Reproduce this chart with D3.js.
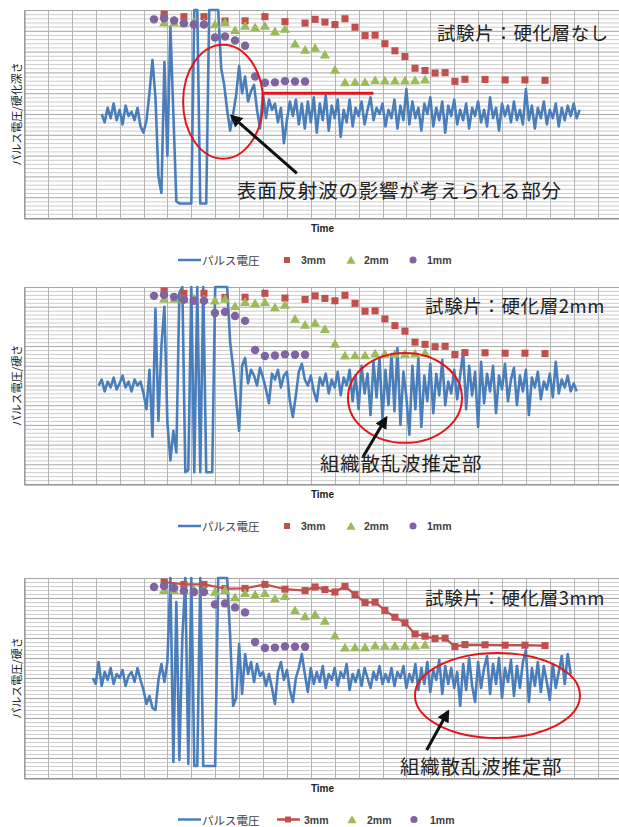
<!DOCTYPE html>
<html>
<head>
<meta charset="utf-8">
<script src="https://cdn.jsdelivr.net/npm/d3@7"></script>
<style>
  body { margin: 0; background: #fff; }
  svg { display: block; }
</style>
</head>
<body>
<svg id="chart" width="619" height="827"></svg>
<script>
// ---- Hardness profiles (same measurements plotted in all three panels) ----
const time3mm = [5.86, 6.69, 7.53, 8.41, 9.25, 10.08, 10.92, 11.76, 12.18, 12.59, 13.01, 13.43,
  13.85, 14.27, 14.69, 15.10, 15.52, 15.94, 16.36, 16.78, 17.20, 17.62, 18.03, 18.45, 19.29,
  20.13, 20.96, 21.80];
const hard3mm = [98, 96.8, 96.8, 94.7, 94.8, 96.8, 94.4, 93.7, 95.5, 94.2, 93, 95.8,
  91.7, 87.7, 87.9, 83.8, 80.4, 77.6, 72, 70.9, 69.7, 69.9, 65.7, 66.7, 66.6,
  66.4, 66.4, 66.2];

const time2mm = [5.86, 6.28, 6.69, 7.11, 7.53, 7.99, 8.41, 8.83, 9.25, 9.67, 10.08, 10.50,
  10.92, 11.34, 11.76, 12.18, 12.59, 13.01, 13.43, 13.85, 14.27, 14.69, 15.10, 15.52, 15.94,
  16.36, 16.78];
const hard2mm = [94, 94, 93.8, 94.2, 93.8, 93.1, 94, 90.3, 92.4, 91.7, 92.4, 89.7,
  91, 83.8, 80.8, 81.8, 78.6, 71.2, 65.2, 65.3, 65.3, 66.2, 66.1, 66.1, 66.1,
  66.2, 66.6];

const time1mm = [5.44, 5.86, 6.28, 6.69, 7.11, 7.53, 7.99, 8.41, 8.83, 9.25, 9.67, 10.08,
  10.50, 10.92, 11.34, 11.76];
const hard1mm = [95.5, 96, 95, 93.6, 93, 93, 86.8, 87.3, 85.3, 82.8, 68, 65,
  65.2, 65.8, 65.6, 65.6];

// ---- Pulse voltage waveforms (sampled every pulseStep on the Time axis) ----
const pulseStep = 0.125;

const pulseStartNone = 3.25;
const pulseNone = [
  50,46,53,48,55,47,52,45,54,49,51,47,53,
  44,41,47,60,76,58,
  20,12,75,30,92,50,8,
  7,7,7,7,7,
  100,100,
  7,7,7,
  100,100,100,100,
  72,64,52,42,50,59,73,60,68,56,61,64,52,43,60,48,57,52,55,46,
  53,36,47,56,49,57,45,55,43,56,46,58,41,55,47,59,42,54,48,57,
  39,52,46,57,44,53,49,56,45,52,58,47,53,50,55,44,52,48,57,43,
  54,47,62,45,56,48,53,42,55,50,58,44,53,47,56,41,54,49,57,45,
  52,47,55,43,53,49,56,46,52,44,58,48,53,42,55,49,54,46,56,47,
  52,45,62,47,54,43,53,48,56,45,52,48,55,44,53,47,54,49,55,48,52
];

const pulseStart2mm = 3.125;
const pulse2mm = [
  50,53,47,52,49,54,48,51,55,49,52,47,53,50,52,
  46,38,58,24,89,32,70,90,31,12,27,16,
  97,100,6,7,100,6,100,6,100,6,6,6,100,100,100,100,100,
  72,59,43,27,60,64,51,58,55,50,59,54,48,41,56,53,58,49,55,57,
  42,34,45,57,61,53,50,55,47,42,54,50,56,46,53,49,57,45,54,50,
  58,42,55,38,60,46,56,35,62,44,64,33,58,40,66,37,69,30,57,44,
  25,60,38,64,29,55,42,61,36,56,45,63,40,52,46,58,43,55,67,38,
  60,45,57,29,62,41,56,47,60,36,55,48,61,42,53,59,40,55,47,58,
  35,54,49,57,43,52,48,56,44,62,46,53,49,55,47,51,47
];

const pulseStart3mm = 2.875;
const pulse3mm = [
  50,47,58,46,53,49,55,47,52,50,54,46,51,53,48,55,49,
  44,37,41,35,34,49,57,48,58,
  100,8,88,9,70,100,7,100,6,6,100,6,6,6,6,6,100,100,100,100,
  71,36,40,67,42,62,52,58,48,57,51,53,46,52,45,37,53,58,49,54,44,38,50,55,62,52,43,
  55,47,53,48,56,45,52,49,55,46,53,50,57,44,52,48,54,46,55,50,
  45,53,49,56,47,52,48,55,46,53,50,56,45,52,48,57,44,
  55,47,58,43,54,49,59,42,56,47,55,45,53,36,57,44,60,46,38,58,
  45,55,61,42,57,47,60,40,55,48,59,41,56,45,58,64,38,55,46,58,
  43,56,48,39,57,45,53,61,47,62,52
];

// ---- Labels ----
const yAxisTitles = ["パルス電圧/硬化深さ", "パルス電圧/硬さ", "パルス電圧/硬さ"];
const specimenTitles = ["試験片：硬化層なし", "試験片：硬化層2mm", "試験片：硬化層3mm"];
const noteTexts = ["表面反射波の影響が考えられる部分", "組織散乱波推定部", "組織散乱波推定部"];
const seriesNames = ["パルス電圧", "3mm", "2mm", "1mm"];
const xAxisTitle = "Time";

// ---- Styling ----
const colors = { pulse: "#4a7ebb", s3: "#c0504d", s2: "#9bbb59", s1: "#8064a2", note: "#e3161d" };

// Panel layout (pixels) and annotation anchors (data units: Time, value)
const panels = [
  { top: 10, bottom: 218, timeY: 228, legendY: 260, start: pulseStartNone, pulse: pulseNone, link3mm: false,
    title: { t: 17.28, v: 89.6 },
    ellipse: { t: 8.33, v: 55.9, rt: 1.674, rv: 27.4 },
    arrow: { t0: 11.42, v0: 21.5, t1: 8.69, v1: 49 },
    note: { t: 8.91, v: 13.5 },
    bar: { t0: 10.01, t1: 14.62, v: 60 } },
  { top: 287, bottom: 484, timeY: 494, legendY: 526, start: pulseStart2mm, pulse: pulse2mm, link3mm: false,
    title: { t: 16.78, v: 90.9 },
    ellipse: { t: 15.94, v: 43.7, rt: 2.385, rv: 22.8 },
    arrow: { t0: 14.18, v0: 13.7, t1: 15.15, v1: 33.5 },
    note: { t: 12.38, v: 10.7 } },
  { top: 578, bottom: 778, timeY: 788, legendY: 819.5, start: pulseStart3mm, pulse: pulse3mm, link3mm: true,
    title: { t: 16.78, v: 90.7 },
    ellipse: { t: 19.81, v: 41.25, rt: 3.452, rv: 21.25 },
    arrow: { t0: 16.85, v0: 14, t1: 17.74, v1: 33.2 },
    note: { t: 15.73, v: 6.5 } }
];

const svg = d3.select("#chart");
const W = 619;

// Arrow head
svg.append("defs").append("marker")
  .attr("id", "arrowHead")
  .attr("viewBox", "0 0 10 10")
  .attr("refX", 8).attr("refY", 5)
  .attr("markerWidth", 4.2).attr("markerHeight", 4.2)
  .attr("markerUnits", "strokeWidth")
  .attr("orient", "auto")
  .append("path").attr("d", "M0,0 L10,5 L0,10 Z").attr("fill", "#111");

const x = d3.scaleLinear().domain([0, 25]).range([24, 621.5]);
const timeGrid = d3.range(0, 26);
const minorGrid = d3.range(0, 101, 2).filter(v => v % 10 !== 0);
const majorGrid = d3.range(0, 101, 10);

const sym = {
  square: d3.symbol().type(d3.symbolSquare).size(50),
  triangle: d3.symbol().type(d3.symbolTriangle).size(44),
  circle: d3.symbol().type(d3.symbolCircle).size(56)
};

panels.forEach((p, k) => {
  const y = d3.scaleLinear().domain([0, 100]).range([p.bottom, p.top]);
  const g = svg.append("g");

  // grid
  g.append("g").selectAll("line").data(minorGrid).join("line")
    .attr("x1", x(0)).attr("x2", W)
    .attr("y1", d => y(d) + 0.5).attr("y2", d => y(d) + 0.5)
    .attr("stroke", "#cdcdcd").attr("stroke-width", 1);
  g.append("g").selectAll("line").data(majorGrid).join("line")
    .attr("x1", x(0)).attr("x2", W)
    .attr("y1", d => y(d) + 0.5).attr("y2", d => y(d) + 0.5)
    .attr("stroke", "#a6a6a6").attr("stroke-width", 1);
  g.append("g").selectAll("line").data(timeGrid).join("line")
    .attr("x1", d => Math.round(x(d)) + 0.5).attr("x2", d => Math.round(x(d)) + 0.5)
    .attr("y1", y(100)).attr("y2", y(0))
    .attr("stroke", "#b4b4b4").attr("stroke-width", 1);

  // axes (no tick labels)
  g.append("g").attr("transform", `translate(0,${y(0) + 0.5})`)
    .call(d3.axisBottom(x).tickValues([]).tickSizeOuter(0))
    .select(".domain").attr("stroke", "#868686");
  g.append("g").attr("transform", `translate(${x(0) + 0.5},0)`)
    .call(d3.axisLeft(y).tickValues([]).tickSizeOuter(0))
    .select(".domain").attr("stroke", "#868686");

  // pulse voltage
  const line = d3.line()
    .x((d, i) => x(p.start + i * pulseStep))
    .y(d => y(d));
  g.append("path").datum(p.pulse)
    .attr("d", line)
    .attr("fill", "none")
    .attr("stroke", colors.pulse)
    .attr("stroke-width", 2.6)
    .attr("stroke-linejoin", "round");

  // 3mm series
  const pts3 = time3mm.map((t, i) => [t, hard3mm[i]]);
  if (p.link3mm) {
    g.append("path").datum(pts3)
      .attr("d", d3.line().x(d => x(d[0])).y(d => y(d[1])))
      .attr("fill", "none").attr("stroke", colors.s3).attr("stroke-width", 2.2);
  }
  g.append("g").selectAll("path").data(pts3).join("path")
    .attr("d", sym.square)
    .attr("transform", d => `translate(${x(d[0])},${y(d[1])})`)
    .attr("fill", colors.s3);

  // 2mm series
  g.append("g").selectAll("path").data(time2mm.map((t, i) => [t, hard2mm[i]])).join("path")
    .attr("d", sym.triangle)
    .attr("transform", d => `translate(${x(d[0])},${y(d[1]) + 1})`)
    .attr("fill", colors.s2);

  // 1mm series
  g.append("g").selectAll("path").data(time1mm.map((t, i) => [t, hard1mm[i]])).join("path")
    .attr("d", sym.circle)
    .attr("transform", d => `translate(${x(d[0])},${y(d[1])})`)
    .attr("fill", colors.s1);

  // annotations
  const e = p.ellipse;
  g.append("ellipse")
    .attr("cx", x(e.t)).attr("cy", y(e.v))
    .attr("rx", x(e.t + e.rt) - x(e.t)).attr("ry", y(e.v) - y(e.v + e.rv))
    .attr("fill", "none").attr("stroke", colors.note).attr("stroke-width", 2);

  if (p.bar) {
    g.append("line")
      .attr("x1", x(p.bar.t0)).attr("x2", x(p.bar.t1))
      .attr("y1", y(p.bar.v)).attr("y2", y(p.bar.v))
      .attr("stroke", colors.note).attr("stroke-width", 3);
  }

  const a = p.arrow;
  g.append("line")
    .attr("x1", x(a.t0)).attr("y1", y(a.v0))
    .attr("x2", x(a.t1)).attr("y2", y(a.v1))
    .attr("stroke", "#111").attr("stroke-width", 3)
    .attr("marker-end", "url(#arrowHead)");

  g.append("text")
    .attr("x", x(p.note.t)).attr("y", y(p.note.v))
    .attr("dominant-baseline", "central")
    .attr("font-family", "'Noto Sans CJK JP', sans-serif")
    .attr("font-size", 19.5).attr("letter-spacing", 0.8)
    .attr("fill", "#222")
    .text(noteTexts[k]);

  g.append("text")
    .attr("x", x(p.title.t)).attr("y", y(p.title.v))
    .attr("dominant-baseline", "central")
    .attr("font-family", "'Noto Sans CJK JP', sans-serif")
    .attr("font-size", 18.5).attr("letter-spacing", 0.6)
    .attr("fill", "#222")
    .text(specimenTitles[k]);

  // axis titles
  g.append("text")
    .attr("transform", `translate(16,${(p.top + p.bottom) / 2}) rotate(-90)`)
    .attr("text-anchor", "middle").attr("dominant-baseline", "central")
    .attr("font-family", "'Noto Sans CJK JP', sans-serif")
    .attr("font-size", 11).attr("fill", "#222")
    .text(yAxisTitles[k]);

  g.append("text")
    .attr("x", 322.5).attr("y", p.timeY)
    .attr("text-anchor", "middle").attr("dominant-baseline", "central")
    .attr("font-family", "'Liberation Sans', Arial, sans-serif")
    .attr("font-weight", "bold").attr("font-size", 10).attr("fill", "#222")
    .text(xAxisTitle);

  // legend
  const lg = g.append("g").attr("transform", `translate(0,${p.legendY})`);
  lg.append("line").attr("x1", 178).attr("x2", 201).attr("y1", 0).attr("y2", 0)
    .attr("stroke", colors.pulse).attr("stroke-width", 2.5);
  lg.append("text").attr("x", 202).attr("y", 0).attr("dominant-baseline", "central")
    .attr("font-family", "'Noto Sans CJK JP', sans-serif").attr("font-size", 11.5)
    .attr("fill", "#404040").text(seriesNames[0]);

  const items = [
    { sx: 287, tx: 301, name: seriesNames[1], c: colors.s3, type: d3.symbolSquare, size: 36 },
    { sx: 351, tx: 364, name: seriesNames[2], c: colors.s2, type: d3.symbolTriangle, size: 36 },
    { sx: 413, tx: 427, name: seriesNames[3], c: colors.s1, type: d3.symbolCircle, size: 40 }
  ];
  items.forEach((it, j) => {
    let sx = it.sx, tx = it.tx;
    if (p.link3mm) {
      sx += 1; tx += 3;
      if (j === 0) {
        lg.append("line").attr("x1", sx - 11).attr("x2", sx + 12).attr("y1", 0).attr("y2", 0)
          .attr("stroke", it.c).attr("stroke-width", 2.5);
      }
    }
    lg.append("path").attr("d", d3.symbol().type(it.type).size(it.size))
      .attr("transform", `translate(${sx},${j === 1 ? 1 : 0})`).attr("fill", it.c);
    lg.append("text").attr("x", tx).attr("y", 0).attr("dominant-baseline", "central")
      .attr("font-family", "'Liberation Sans', Arial, sans-serif").attr("font-weight", "bold")
      .attr("font-size", 10.5).attr("fill", "#404040").text(it.name);
  });
});
</script>
</body>
</html>
